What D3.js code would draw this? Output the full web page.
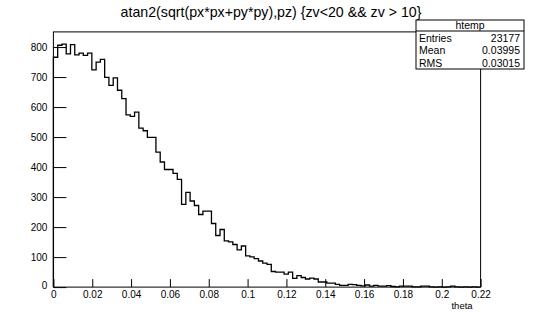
<!DOCTYPE html>
<html>
<head>
<meta charset="utf-8">
<script src="https://cdn.jsdelivr.net/npm/d3@7"></script>
<style>
  body { margin: 0; background: #fff; }
  text { font-family: 'Liberation Sans', Arial, sans-serif; fill: #000; }
</style>
</head>
<body>
<div id="htemp-canvas"></div>
<script>
'use strict';

// histogram htemp, 100 bins on [0, 0.22]
const binLow = 0;
const binHigh = 0.22;
const binCounts = [
  766, 806, 810, 777, 808, 774, 780, 772, 780, 724,
  750, 759, 699, 672, 697, 656, 628, 574, 569, 583,
  530, 521, 499, 499, 450, 417, 392, 392, 379, 359,
  276, 316, 287, 272, 242, 253, 253, 212, 172, 192,
  154, 151, 142, 124, 137, 104, 101, 95, 87, 80,
  76, 52, 50, 50, 43, 50, 29, 38, 32, 27,
  30, 27, 17, 17, 13, 13, 9, 6, 6, 9,
  8, 6, 4, 7, 3, 6, 3, 3, 5, 2,
  1, 3, 3, 3, 1, 1, 3, 3, 1, 0,
  1, 0, 1, 3, 1, 0, 1, 0, 1, 0
];
const xMajorTicks = [0, 0.02, 0.04, 0.06, 0.08, 0.1, 0.12, 0.14, 0.16, 0.18, 0.2, 0.22];
const yMajorTicks = [0, 100, 200, 300, 400, 500, 600, 700, 800];
const statsLabels = ['Entries', 'Mean', 'RMS'];
const statsValues = ['23177', '0.03995', '0.03015'];
const histTitle = 'atan2(sqrt(px*px+py*py),pz) {zv<20 && zv > 10}';
const histName = 'htemp';
const xTitle = 'theta';

class HistCanvas {
  constructor (svgWidth, svgHeight) {
    this.svgWidth = svgWidth;
    this.svgHeight = svgHeight;
    // pad margins 0.1 on every side, like a default TCanvas
    this.frame = {
      'left': 0.1 * svgWidth, 'right': 0.9 * svgWidth,
      'top': 0.1 * svgHeight, 'bottom': 0.9 * svgHeight,
    };
    this.svg = d3.select('#htemp-canvas')
                 .append('svg')
                   .attr('width', svgWidth)
                   .attr('height', svgHeight);
    this.x = d3.scaleLinear()
               .domain([binLow, binHigh])
               .range([this.frame.left, this.frame.right]);
    this.y = d3.scaleLinear()
               .domain([0, d3.max(binCounts) * 1.05])
               .range([this.frame.bottom, this.frame.top]);
  }

  drawFrame() {
    this.svg.append('rect')
              .attr('x', this.frame.left)
              .attr('y', this.frame.top)
              .attr('width', this.frame.right - this.frame.left)
              .attr('height', this.frame.bottom - this.frame.top)
              .attr('fill', 'none')
              .attr('stroke', '#000')
              .attr('stroke-width', 1);
  }

  drawHist() {
    const width = (binHigh - binLow) / binCounts.length;
    const pts = [[binLow, 0]];
    binCounts.forEach((c, i) => {
      pts.push([binLow + i * width, c]);
      pts.push([binLow + (i + 1) * width, c]);
    });
    pts.push([binHigh, 0]);
    const line = d3.line()
                   .x(d => this.x(d[0]))
                   .y(d => this.y(d[1]));
    this.svg.append('path')
              .attr('d', line(pts))
              .attr('fill', 'none')
              .attr('stroke', '#000')
              .attr('stroke-width', 1.3);
  }

  drawAxes() {
    const xFmt = d => String(+d.toFixed(2));
    const xAxis = this.svg.append('g')
                          .attr('transform', `translate(0, ${this.frame.bottom})`);
    xAxis.call(d3.axisBottom(this.x)
                 .tickValues(d3.range(0, 0.2201, 0.005))
                 .tickFormat('')
                 .tickSize(-4));
    xAxis.call(d3.axisBottom(this.x)
                 .tickValues(xMajorTicks)
                 .tickFormat(xFmt)
                 .tickSize(-8)
                 .tickPadding(4));

    const yAxis = this.svg.append('g')
                          .attr('transform', `translate(${this.frame.left}, 0)`);
    yAxis.call(d3.axisLeft(this.y)
                 .tickValues(d3.range(0, 851, 20))
                 .tickFormat('')
                 .tickSize(-6.5));
    yAxis.call(d3.axisLeft(this.y)
                 .tickValues(yMajorTicks)
                 .tickFormat(d3.format('d'))
                 .tickSize(-13)
                 .tickPadding(6));

    this.svg.selectAll('.domain').remove();
    this.svg.selectAll('.tick line').attr('stroke', '#000');
    this.svg.selectAll('.tick text')
              .attr('font-size', 10)
              .attr('font-family', "'Liberation Sans', Arial, sans-serif");
    // the y "0" sits a bit above its tick, as ROOT does
    yAxis.selectAll('.tick text').filter(d => d === 0).attr('dy', '0.1em');

    this.svg.append('text')
              .attr('x', this.frame.right - 8)
              .attr('y', this.frame.bottom + 22)
              .attr('text-anchor', 'end')
              .attr('font-size', 9.5)
              .text(xTitle);
  }

  drawTitle() {
    this.svg.append('text')
              .attr('x', 271)
              .attr('y', 17)
              .attr('text-anchor', 'middle')
              .attr('font-size', 14.2)
              .text(histTitle);
  }

  drawStats() {
    const box = {'x': 416, 'y': 20, 'w': 108, 'h': 49};
    const g = this.svg.append('g');
    g.append('rect')
       .attr('x', box.x).attr('y', box.y)
       .attr('width', box.w).attr('height', box.h)
       .attr('fill', '#fff')
       .attr('stroke', '#000');
    g.append('line')
       .attr('x1', box.x).attr('x2', box.x + box.w)
       .attr('y1', box.y + 11).attr('y2', box.y + 11)
       .attr('stroke', '#000');
    g.append('text')
       .attr('x', box.x + box.w / 2)
       .attr('y', box.y + 9)
       .attr('text-anchor', 'middle')
       .attr('font-size', 10.5)
       .text(histName);
    statsLabels.forEach((lab, i) => {
      const yy = box.y + 22 + i * 12.3;
      g.append('text')
         .attr('x', box.x + 3).attr('y', yy)
         .attr('font-size', 10.5)
         .text(lab);
      g.append('text')
         .attr('x', box.x + box.w - 4).attr('y', yy)
         .attr('text-anchor', 'end')
         .attr('font-size', 10.5)
         .text(statsValues[i]);
    });
  }
}

let canvas = new HistCanvas(534, 319);
canvas.drawFrame();
canvas.drawHist();
canvas.drawAxes();
canvas.drawTitle();
canvas.drawStats();
</script>
</body>
</html>
